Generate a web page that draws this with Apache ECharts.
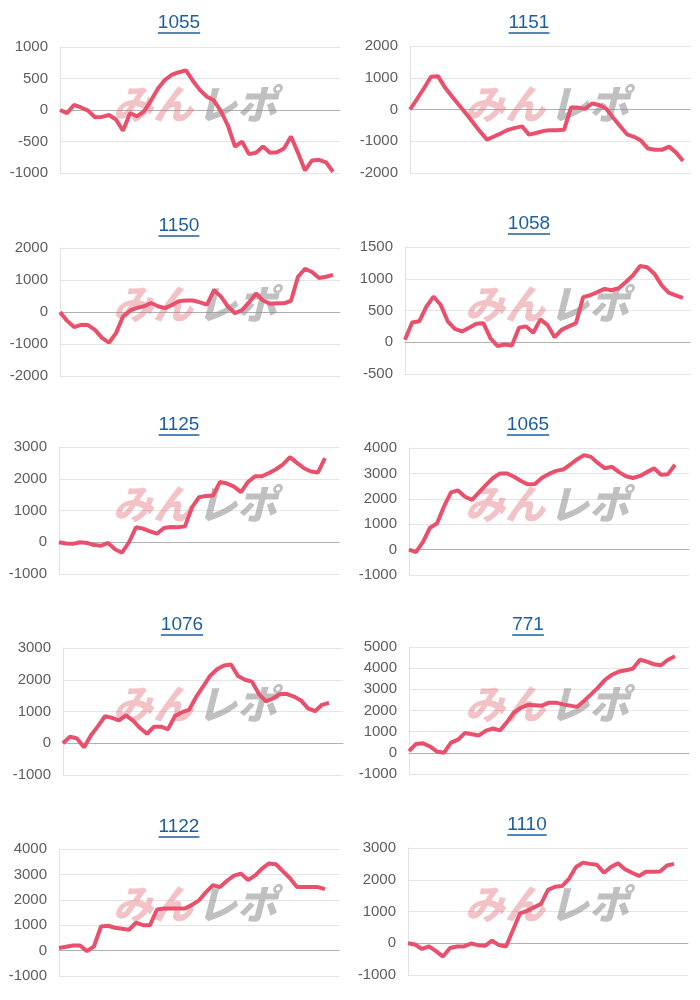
<!DOCTYPE html>
<html><head><meta charset="utf-8">
<script src="https://cdn.jsdelivr.net/npm/echarts@6/dist/echarts.min.js"></script>
<style>html,body{margin:0;padding:0;background:#fff}#c{width:700px;height:1000px}</style>
</head><body><div id="c"></div>
<script>
const titles = ['1055','1151','1150','1058','1125','1065','1076','771','1122','1110'];
const s1055 = [0,-50,80,40,-10,-115,-110,-80,-150,-330,-50,-100,-20,150,340,480,560,600,630,460,315,210,150,-20,-250,-580,-500,-700,-680,-580,-680,-670,-610,-420,-680,-960,-800,-790,-830,-980];
const s1151 = [0,330,670,1030,1050,690,410,140,-130,-410,-690,-950,-850,-750,-640,-580,-530,-790,-740,-680,-650,-650,-640,60,60,20,190,140,30,-250,-520,-780,-860,-980,-1230,-1270,-1270,-1170,-1350,-1620];
const s1150 = [0,-270,-470,-400,-410,-560,-810,-960,-660,-140,40,130,180,280,180,120,220,340,360,360,300,230,680,480,170,-40,60,300,580,360,260,270,270,350,1100,1350,1250,1060,1100,1160];
const s1058 = [40,310,330,560,720,590,330,210,170,230,290,300,60,-60,-35,-50,230,250,150,360,270,80,200,250,300,710,740,790,840,820,850,950,1055,1200,1180,1080,900,780,740,700];
const s1125 = [0,-40,-50,0,-20,-90,-110,-20,-220,-330,0,470,430,340,270,450,480,470,500,1100,1420,1460,1470,1900,1850,1750,1580,1900,2080,2080,2180,2300,2450,2680,2500,2330,2230,2200,2650];
const s1065 = [0,-100,300,860,1030,1700,2250,2330,2080,1960,2250,2550,2820,3000,3000,2870,2700,2570,2580,2830,2980,3100,3150,3340,3550,3720,3650,3400,3200,3260,3050,2890,2820,2900,3050,3200,2950,2970,3340];
const s1076 = [0,210,150,-130,250,540,850,800,720,880,710,480,300,520,520,440,860,980,1050,1450,1780,2120,2330,2450,2480,2120,2000,1940,1550,1320,1410,1550,1550,1470,1350,1100,1010,1210,1270];
const s771 = [80,420,450,300,60,0,480,620,940,880,820,1050,1150,1060,1450,1900,2130,2270,2250,2230,2370,2370,2290,2230,2170,2450,2760,3080,3450,3690,3840,3900,3980,4400,4310,4180,4140,4400,4560];
const s1122 = [100,150,200,200,-20,170,950,980,900,860,820,1100,1000,1000,1620,1660,1660,1660,1660,1800,1980,2300,2580,2500,2750,2950,3030,2780,2950,3230,3430,3400,3120,2850,2500,2500,2500,2500,2420];
const s1110 = [0,-40,-180,-100,-250,-420,-150,-100,-100,-10,-60,-80,80,-60,-100,420,940,1020,1130,1240,1680,1780,1800,2030,2400,2540,2500,2470,2220,2400,2520,2330,2220,2120,2250,2250,2260,2450,2500];
const seriesData = [s1055,s1151,s1150,s1058,s1125,s1065,s1076,s771,s1122,s1110];
const yMin = [-1000,-2000,-2000,-500,-1000,-1000,-1000,-1000,-1000,-1000];
const yMax = [1000,2000,2000,1500,3000,4000,3000,5000,4000,3000];
const yStep = [500,1000,1000,500,1000,1000,1000,1000,1000,1000];
const xSlots = 41;
const watermarkPink = 'みん';
const watermarkGray = 'レポ';

// layout: [left, top, right, bottom] of each plot area, and title centre
const boxes = [
  [60,47,340,173],[410,46,690,173],
  [60,248,340,376],[405,247,690,374],
  [59,447,339,574],[409,448,689,575],
  [63,648,343,775],[409,647,689,774],
  [59,849,339,976],[408,848,688,975]
];
const titlePos = [[179,23],[529,23],[179,226],[529,224],[179,425],[528,425],[182,625],[528,625],[179,827],[527,825]];

const cats = Array.from({length:xSlots},(_,i)=>String(i+1));
const FONT = '"Liberation Sans", Arial, sans-serif';
const TFONT = '19px ' + FONT;
const mctx = document.createElement('canvas').getContext('2d');
mctx.font = TFONT;

const grid=[],xAxis=[],yAxis=[],series=[],graphic=[];
seriesData.forEach((d,k)=>{
  const b = boxes[k];
  grid.push({left:b[0],top:b[1],width:b[2]-b[0],height:b[3]-b[1],containLabel:false});
  xAxis.push({type:'category',gridIndex:k,data:cats,boundaryGap:false,
    axisLine:{show:true,onZero:true,lineStyle:{color:'#b0b0b0',width:1}},
    axisTick:{show:false},axisLabel:{show:false},splitLine:{show:false}});
  yAxis.push({type:'value',gridIndex:k,min:yMin[k],max:yMax[k],interval:yStep[k],
    axisLine:{show:true,onZero:false,lineStyle:{color:'#e2e2e2',width:1}},
    axisTick:{show:false},
    axisLabel:{color:'#5e5e5e',fontSize:15,fontFamily:FONT,margin:12,formatter:v=>String(v)},
    splitLine:{show:true,lineStyle:{color:'#e4e4e4',width:1}}});
  series.push({type:'line',xAxisIndex:k,yAxisIndex:k,data:d,symbol:'none',smooth:false,
    lineStyle:{color:'#e9506b',width:4},z:5});
  const tp = titlePos[k];
  const w = mctx.measureText(titles[k]).width;
  graphic.push({type:'text',x:tp[0],y:tp[1],z:10,style:{text:titles[k],font:TFONT,fill:'#1d5e9c',textAlign:'center',textVerticalAlign:'middle'}});
  graphic.push({type:'line',z:10,shape:{x1:tp[0]-w/2,y1:tp[1]+10,x2:tp[0]+w/2,y2:tp[1]+10},style:{stroke:'#1d5e9c',lineWidth:1.5}});
  const cx = (k%2===0)?195:547;
  const cy = 104 + Math.floor(k/2)*200;
  graphic.push({type:'text',x:cx-2,y:cy,z:1,style:{text:watermarkPink,font:'italic 900 40px "Noto Sans CJK JP", sans-serif',fill:'rgba(225,110,120,0.42)',textAlign:'right',textVerticalAlign:'middle'}});
  graphic.push({type:'text',x:cx+2,y:cy,z:1,style:{text:watermarkGray,font:'italic 900 40px "Noto Sans CJK JP", sans-serif',fill:'rgba(140,140,140,0.55)',textAlign:'left',textVerticalAlign:'middle'}});
});

const chart = echarts.init(document.getElementById('c'),null,{renderer:'canvas'});
chart.setOption({animation:false,backgroundColor:'#fff',grid,xAxis,yAxis,series,graphic});
</script></body></html>
